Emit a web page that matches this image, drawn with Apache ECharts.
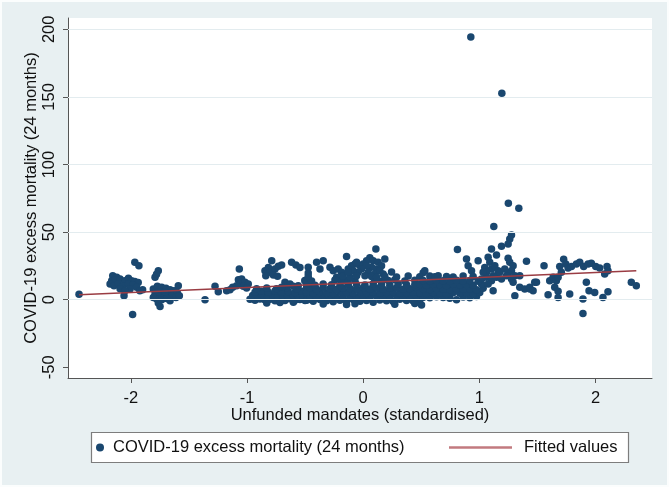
<!DOCTYPE html>
<html><head><meta charset="utf-8">
<script src="https://cdn.jsdelivr.net/npm/echarts@6/dist/echarts.min.js"></script>
<style>html,body{margin:0;padding:0;background:#fff}#c{width:669px;height:487px}</style>
</head><body><div id="c"></div>
<script>
const xTickValues = [-2, -1, 0, 1, 2];
const yTickValues = [-50, 0, 50, 100, 150, 200];
const yGridValues = [0, 50, 100, 150, 200];
const seriesNames = ['COVID-19 excess mortality (24 months)', 'Fitted values'];
const fitX = [-2.445, 2.35];
const fitY = [3.7, 21.5];

const pointsWest = [
[-2.445,4.0],[-2.155,17.8],[-2.121,16.6],[-2.164,14.1],[-2.135,14.6],[-2.092,15.3],[-2.050,14.1],[-2.020,15.8],[-1.993,14.1],[-1.965,13.4],[-1.936,12.8],[-2.178,11.6],[-2.144,10.4],[-2.107,11.9],[-2.064,10.4],[-2.020,11.6],[-1.979,10.9],[-1.950,9.2],[-2.006,7.9],[-2.092,8.2],[-2.050,6.7],[-1.922,6.7],[-1.898,7.4],[-2.058,3.0],[-1.965,27.7],[-1.930,25.2],[-1.763,21.5],[-1.791,16.6],[-1.778,18.9],[-1.984,-10.9],[-1.806,7.9],[-1.771,9.9],[-1.734,9.2],[-1.697,8.4],[-1.662,7.4],[-1.628,6.7],[-1.591,10.4],[-1.600,5.4],[-1.791,4.2],[-1.754,3.0],[-1.720,4.2],[-1.685,3.0],[-1.648,2.5],[-1.611,1.7],[-1.777,0.5],[-1.734,0.0],[-1.691,1.0],[-1.662,-0.7],[-1.582,3.0],[-1.806,1.7],[-1.705,5.9],[-1.763,5.9],[-1.748,-5.0],[-1.763,-2.4]
];
const pointsCentreLeft = [
[-1.361,0.0],[-1.275,9.9],[-1.247,5.9],[-1.175,6.7],[-1.146,7.4],[-1.123,9.2],[-1.066,22.8],[-1.074,14.8],[-1.046,15.3],[-1.060,11.6],[-1.017,12.9],[-0.989,11.6],[-1.032,9.9],[-1.089,10.4],[-1.003,8.6],
[-0.974,0.3],[-0.931,-0.4],[-0.888,0.6],[-0.845,-0.2],[-0.802,0.4],[-0.759,-0.8],[-0.716,0.2],[-0.673,-0.5],[-0.630,0.7],[-0.587,-0.3],[-0.544,0.1],[-0.501,-0.6],[-0.458,0.4],
[-0.951,3.2],[-0.908,2.6],[-0.865,3.5],[-0.822,2.8],[-0.779,3.3],[-0.736,2.5],[-0.693,3.1],[-0.650,2.7],[-0.607,3.6],[-0.564,2.9],[-0.521,3.4],[-0.478,2.4],
[-0.931,5.6],[-0.874,6.2],[-0.816,5.5],[-0.759,6.4],[-0.702,5.8],[-0.645,6.1],[-0.587,5.3],[-0.530,6.3],[-0.473,5.7],
[-0.917,8.1],[-0.830,8.7],[-0.745,8.2],[-0.659,8.8],[-0.573,8.0],[-0.487,8.6],
[-0.673,12.9],[-0.630,11.6],[-0.601,9.9],[-0.559,10.4],[-0.702,9.2],[-0.501,14.1],[-0.473,15.3],[-0.487,10.9],
[-0.787,28.9],[-0.816,23.9],[-0.845,21.5],[-0.802,20.3],[-0.759,22.8],[-0.730,24.7],[-0.702,25.7],[-0.838,17.8],[-0.773,18.3],[-0.737,17.3],[-0.616,27.7],[-0.579,25.7],[-0.544,23.9],[-0.473,19.8],
[-0.830,-2.4],[-0.716,-2.0],[-0.601,-1.8]
];
const pointsCentre = [
[0.109,37.6],[-0.143,31.9],[0.186,30.2],
[0.057,31.1],[0.029,28.9],[0.000,26.5],[-0.028,25.2],[-0.071,26.5],[-0.100,25.2],[-0.057,27.7],[0.086,28.9],[0.129,27.7],[0.158,25.2],[0.115,22.8],[0.072,24.0],[0.029,25.2],[-0.014,22.8],[-0.043,20.3],[-0.086,21.5],[-0.129,22.8],[0.043,20.3],[0.015,17.8],[0.100,19.1],[0.143,21.5],[0.172,19.1],
[-0.473,24.0],[-0.401,27.7],[-0.344,28.9],[-0.372,22.8],[-0.286,24.0],[-0.258,21.5],[-0.215,22.8],[-0.186,20.3],[-0.229,16.6],
[-0.487,-0.4],[-0.430,-1.1],[-0.372,0.2],[-0.315,-0.8],[-0.258,-1.5],[-0.200,-0.3],[-0.143,-0.9],[-0.086,0.1],[-0.028,-1.2],[0.029,-0.5],[0.086,-1.8],[0.143,-0.2],[0.201,-0.7],[0.258,-1.4],[0.315,0.3],[0.373,-0.6],[0.430,-1.0],[0.487,-0.1],
[-0.458,2.5],[-0.401,1.8],[-0.344,2.9],[-0.286,2.1],[-0.229,1.6],[-0.172,2.7],[-0.114,2.3],[-0.057,1.9],[0.000,2.8],[0.057,2.0],[0.115,2.6],[0.172,1.7],[0.229,2.4],[0.287,2.9],[0.344,1.8],[0.401,2.2],[0.459,2.7],[0.516,2.0],
[-0.487,5.5],[-0.430,4.8],[-0.372,5.9],[-0.315,5.0],[-0.258,4.6],[-0.200,5.7],[-0.143,5.3],[-0.086,4.9],[-0.028,5.8],[0.029,5.1],[0.086,5.6],[0.143,4.7],[0.201,5.4],[0.258,5.9],[0.315,4.8],[0.373,5.2],[0.430,5.6],[0.487,5.0],
[-0.458,8.5],[-0.401,7.8],[-0.344,8.9],[-0.286,8.1],[-0.229,7.6],[-0.172,8.7],[-0.114,8.3],[-0.057,7.9],[0.000,8.8],[0.057,8.0],[0.115,8.6],[0.172,7.7],[0.229,8.4],[0.287,8.9],[0.344,7.8],[0.401,8.2],[0.459,8.7],[0.516,8.0],
[-0.487,11.4],[-0.415,10.8],[-0.344,11.7],[-0.272,11.0],[-0.200,10.6],[-0.129,11.5],[-0.057,11.2],[0.015,10.9],[0.086,11.8],[0.158,11.1],[0.229,10.7],[0.301,11.6],[0.373,11.0],[0.444,11.3],[0.516,10.8],
[-0.501,14.3],[-0.444,13.8],[-0.243,14.6],[-0.186,13.9],[-0.129,14.4],[-0.071,14.0],[0.100,14.5],[0.158,13.7],[0.215,14.2],[0.272,14.8],[0.358,13.9],[0.444,14.4],
[-0.473,17.3],[-0.172,17.5],[-0.114,16.9],[-0.057,17.8],[0.072,17.2],[0.115,16.7],[0.186,17.4],[0.287,16.8],[0.387,17.6],[0.487,17.0],
[-0.129,20.5],[0.244,20.6],[0.516,20.0],
[-0.344,-3.2],[-0.143,-3.5],[-0.071,-2.9],[0.272,-3.3],[0.444,-2.8]
];
const pointsCentreRight = [
[1.124,54.2],[1.276,47.9],[1.261,45.0],[1.247,41.3],[1.190,39.6],[1.104,37.6],[0.811,37.1],
[0.889,30.2],[0.989,28.9],[1.075,31.4],[1.147,33.1],[1.089,27.7],[1.046,23.9],[1.104,22.8],[1.133,25.2],[1.161,21.5],[1.061,20.3],[1.118,17.8],
[1.247,30.7],[1.261,27.7],[1.290,25.2],[1.276,21.5],[1.305,17.8],[1.247,19.1],
[1.405,28.4],[1.347,17.8],[1.347,9.2],[1.390,7.9],[1.433,9.2],[1.476,12.9],[1.305,3.0],[1.118,6.7],[0.803,0.0],[0.502,-3.9],[0.530,21.5],[0.932,21.5],[0.903,25.2],
[0.516,1.9],[0.573,1.4],[0.631,2.2],[0.688,1.6],[0.745,1.1],[0.860,2.0],[0.917,1.5],[0.975,2.3],
[0.488,5.1],[0.545,4.6],[0.602,5.3],[0.659,4.8],[0.717,4.4],[0.774,5.2],[0.831,4.7],[0.889,5.0],[0.946,4.5],[1.003,5.4],
[0.516,8.1],[0.573,7.6],[0.631,8.3],[0.688,7.8],[0.745,7.5],[0.803,8.2],[0.860,7.7],[0.917,8.0],[0.975,7.4],[1.032,8.4],
[0.488,11.3],[0.545,10.8],[0.602,11.5],[0.659,11.0],[0.717,10.6],[0.774,11.4],[0.831,10.9],[0.889,11.2],[0.946,10.7],[1.018,11.6],
[0.516,14.3],[0.573,13.8],[0.631,14.5],[0.688,14.0],[0.745,13.6],[0.803,14.4],[0.860,13.9],[0.917,14.2],[0.989,13.7],
[0.573,17.5],[0.616,17.0],[0.645,17.8],[0.717,17.2],[0.774,16.9],[0.860,17.6],[0.946,17.1],
[1.018,15.3],[1.061,16.6],[1.104,14.1],[1.147,16.6],[1.190,15.3],[1.233,17.8],[1.276,15.3],[1.032,20.3],[1.175,20.3],[1.218,22.8],[1.290,12.9],[1.075,11.6]
];
const pointsEast = [
[1.556,25.2],[1.605,14.1],[1.634,16.6],[1.662,14.1],[1.648,9.2],[1.677,6.2],[1.591,3.7],[1.677,1.7],[1.777,4.2],
[1.691,24.5],[1.725,29.9],[1.743,26.5],[1.763,23.5],[1.792,24.5],[1.835,26.5],[1.863,27.7],[1.897,24.5],[1.935,26.5],[1.963,26.9],[2.001,24.5],[2.035,23.5],[2.098,24.5],[2.106,21.5],
[1.705,20.3],[1.677,16.6],
[1.920,12.9],[1.943,6.7],[1.992,5.4],[1.891,0.5],[1.891,-10.2],[2.063,1.7],[2.106,5.9],[2.078,19.0],
[2.307,12.9],[2.350,10.4],
[1.434,7.9],[1.462,6.7],[1.491,12.9]
];
const pointsOutliers = [[0.926,194.4],[1.193,152.8],[1.249,71.4],[1.339,67.7]];

const scatterData = [].concat(pointsWest, pointsCentreLeft, pointsCentre, pointsCentreRight, pointsEast, pointsOutliers);
const fitData = fitX.map((x, i) => [x, fitY[i]]);

const FONT = '"Liberation Sans", Arial, Helvetica, sans-serif';
const BG = '#e8f0f2';
const chart = echarts.init(document.getElementById('c'), null, {renderer: 'canvas'});
chart.setOption({
  animation: false,
  backgroundColor: '#fbfdfd',
  textStyle: {fontFamily: FONT},
  graphic: [
    {type: 'rect', z: -10, silent: true, shape: {x: 2, y: 2, width: 665, height: 483}, style: {fill: BG}},
    {type: 'rect', z: 1, silent: true, shape: {x: 91.5, y: 432.5, width: 537, height: 30}, style: {fill: '#ffffff', stroke: '#7d7d7d', lineWidth: 1.2}}
  ],
  grid: {left: 68, top: 18, right: 17, bottom: 109, show: true, backgroundColor: '#ffffff', borderWidth: 0, containLabel: false},
  legend: [
    {data: [seriesNames[0]], left: 96, top: 439, padding: 0, itemWidth: 8, itemHeight: 8, icon: 'circle', z: 5,
     textStyle: {fontSize: 16.5, color: '#111', fontFamily: FONT, padding: [0, 0, 0, 4]}},
    {data: [seriesNames[1]], left: 449, top: 439, padding: 0, itemWidth: 63, itemHeight: 2.5, icon: 'rect', z: 5,
     itemStyle: {color: '#c27a7f'},
     textStyle: {fontSize: 16.5, color: '#111', fontFamily: FONT, padding: [0, 0, 0, 7]}}
  ],
  xAxis: {
    type: 'value', min: -2.54, max: 2.485,
    name: 'Unfunded mandates (standardised)', nameLocation: 'middle', nameGap: 29, nameMoveOverlap: false,
    nameTextStyle: {fontSize: 16.5, color: '#111', fontFamily: FONT},
    axisLine: {show: true, onZero: false, lineStyle: {color: '#555', width: 1}},
    axisTick: {show: true, length: 5, customValues: xTickValues, lineStyle: {color: '#555'}},
    axisLabel: {customValues: xTickValues, margin: 12, fontSize: 16.5, color: '#111', fontFamily: FONT},
    splitLine: {show: false}
  },
  yAxis: {
    type: 'value', min: -57.9, max: 208.4,
    name: 'COVID-19 excess mortality (24 months)', nameLocation: 'middle', nameGap: 28, nameRotate: 90, nameMoveOverlap: false,
    nameTextStyle: {fontSize: 16.5, color: '#111', fontFamily: FONT},
    axisLine: {show: true, onZero: false, lineStyle: {color: '#555', width: 1}},
    axisTick: {show: true, length: 5, customValues: yTickValues, lineStyle: {color: '#555'}},
    axisLabel: {customValues: yTickValues, rotate: 90, margin: 10, fontSize: 16.5, color: '#111', fontFamily: FONT},
    splitLine: {show: false}
  },
  series: [
    {
      type: 'line', name: 'grid', data: [], z: 1, silent: true, symbol: 'none',
      markLine: {silent: true, symbol: 'none', animation: false, label: {show: false},
        lineStyle: {color: '#e3ecef', width: 1, type: 'solid'},
        data: yGridValues.map(v => ({yAxis: v}))}
    },
    {
      type: 'scatter', name: seriesNames[0], data: scatterData, z: 2,
      symbol: 'circle', symbolSize: 7.5, itemStyle: {color: '#1a476f', opacity: 1}
    },
    {
      type: 'line', name: seriesNames[1], data: fitData, z: 3, symbol: 'none', showSymbol: false,
      lineStyle: {color: '#9a3c43', width: 1.5}, itemStyle: {color: '#9a3c43'}
    }
  ]
});
</script></body></html>
